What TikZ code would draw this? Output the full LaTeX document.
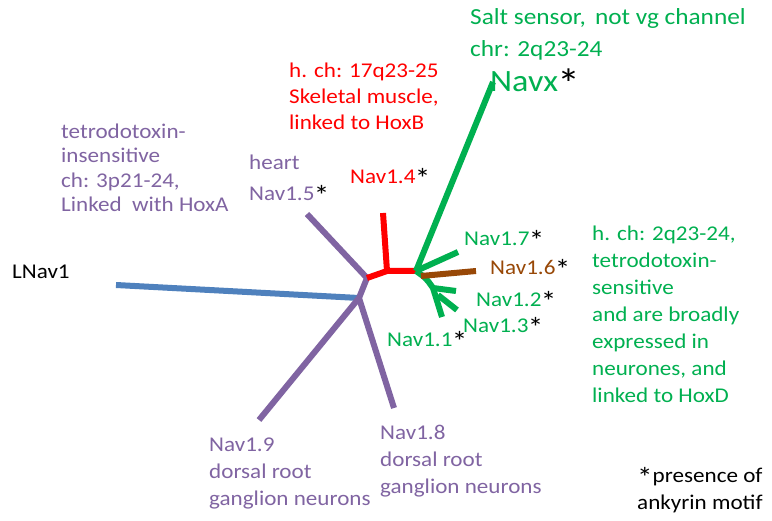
\documentclass[tikz,border=0pt]{standalone}
\usepackage{fontspec}
\setmainfont{Carlito}[FakeStretch=1.1]
\definecolor{vpurple}{HTML}{8064A2}
\definecolor{vblue}{HTML}{4F81BD}
\definecolor{vgreen}{HTML}{00B050}
\definecolor{vbrown}{HTML}{984807}
\definecolor{vred}{HTML}{FF0000}
\newcommand{\bigast}{\kern-0.03em\raisebox{-0.24em}{\scalebox{1.35}{*}}}
\newcommand{\blkast}{\textcolor{black}{\bigast}}
\begin{document}
\begin{tikzpicture}[x=1pt,y=-1pt,
  branch/.style={line width=6pt, line cap=butt, line join=round},
  lbl/.style={anchor=west, inner sep=0pt, align=left, font=\fontsize{21}{27}\selectfont},
  lblr/.style={lbl, font=\fontsize{21}{26}\selectfont},
  lblp/.style={lbl, font=\fontsize{21}{24.5}\selectfont}]
\useasboundingbox (0,0) rectangle (772,521);
\fill[white] (0,0) rectangle (772,521);

% tree points
\coordinate (A) at (359,298);
\coordinate (B) at (367,278);
\coordinate (R) at (387,271);
\coordinate (G) at (416,271);
\coordinate (lnav) at (116,285);
\coordinate (e15) at (307,214);
\coordinate (e19) at (259,420);
\coordinate (e18) at (394,408);
\coordinate (e14) at (383,213);
\coordinate (ex) at (493,82);
\coordinate (e17) at (458,252);
\coordinate (b16) at (421,276);
\coordinate (e16) at (476,271);
\coordinate (P) at (433,288);
\coordinate (e12) at (456,291);
\coordinate (e13) at (442,317);
\coordinate (Q) at (438,295);
\coordinate (e11) at (457,310);

% branches
\draw[branch, vblue] (lnav) -- (A);
\draw[branch, vpurple] (e15) -- (B) -- (A) -- (e19);
\draw[branch, vpurple] (A) -- (e18);
\draw[branch, vred] (B) -- (R) -- (G);
\draw[branch, vred] (R) -- (e14);
\draw[branch, vgreen] (G) -- (ex);
\draw[branch, vgreen] (G) -- (e17);
\draw[branch, vgreen] (G) .. controls (426,278) .. (P) -- (e13);
\draw[branch, vgreen] (P) -- (e12);
\draw[branch, vgreen] (Q) -- (e11);
\draw[branch, vbrown] (b16) -- (e16);

% labels
\node[lbl, text=vgreen, font=\fontsize{23}{32}\selectfont] (salt) at (470,34)
  {Salt sensor,\hspace{0.4em}not vg channel\\chr: 2q23-24};
\node[lbl, text=vgreen, font=\fontsize{31}{36}\selectfont] (navx) at (490,84) {Navx\blkast};
\node[lblr, text=vred] (redtxt) at (289,96) {h. ch: 17q23-25\\Skeletal muscle,\\linked to HoxB};
\node[lblp, text=vpurple] (ttxi) at (61,168) {tetrodotoxin-\\insensitive\\ch: 3p21-24,\\Linked\ \ with HoxA};
\node[lbl, text=vpurple] (heart) at (249,162) {heart};
\node[lbl, text=vpurple] (n15) at (249,195) {Nav1.5\blkast};
\node[lbl, text=vred] (n14) at (350,178) {Nav1.4\blkast};
\node[lbl, text=black] (lnavt) at (12,272) {LNav1};
\node[lbl, text=vgreen] (n17) at (464,240) {Nav1.7\blkast};
\node[lbl, text=vbrown] (n16) at (490,269) {Nav1.6\blkast};
\node[lbl, text=vgreen] (n12) at (476,301) {Nav1.2\blkast};
\node[lbl, text=vgreen] (n13) at (463,327) {Nav1.3\blkast};
\node[lbl, text=vgreen] (n11) at (387,341) {Nav1.1\blkast};
\node[lbl, text=vgreen] (ttxs) at (592,314) {h. ch: 2q23-24,\\tetrodotoxin-\\sensitive\\and are broadly\\expressed in\\neurones, and\\linked to HoxD};
\node[lbl, text=vpurple] (n19) at (209,473) {Nav1.9\\dorsal root\\ganglion neurons};
\node[lbl, text=vpurple] (n18) at (380,461) {Nav1.8\\dorsal root\\ganglion neurons};
\node[lbl, text=black] (ank) at (637,490) {\raisebox{-0.24em}{\scalebox{1.35}{*}}presence of\\ankyrin motif};
\end{tikzpicture}
\end{document}
